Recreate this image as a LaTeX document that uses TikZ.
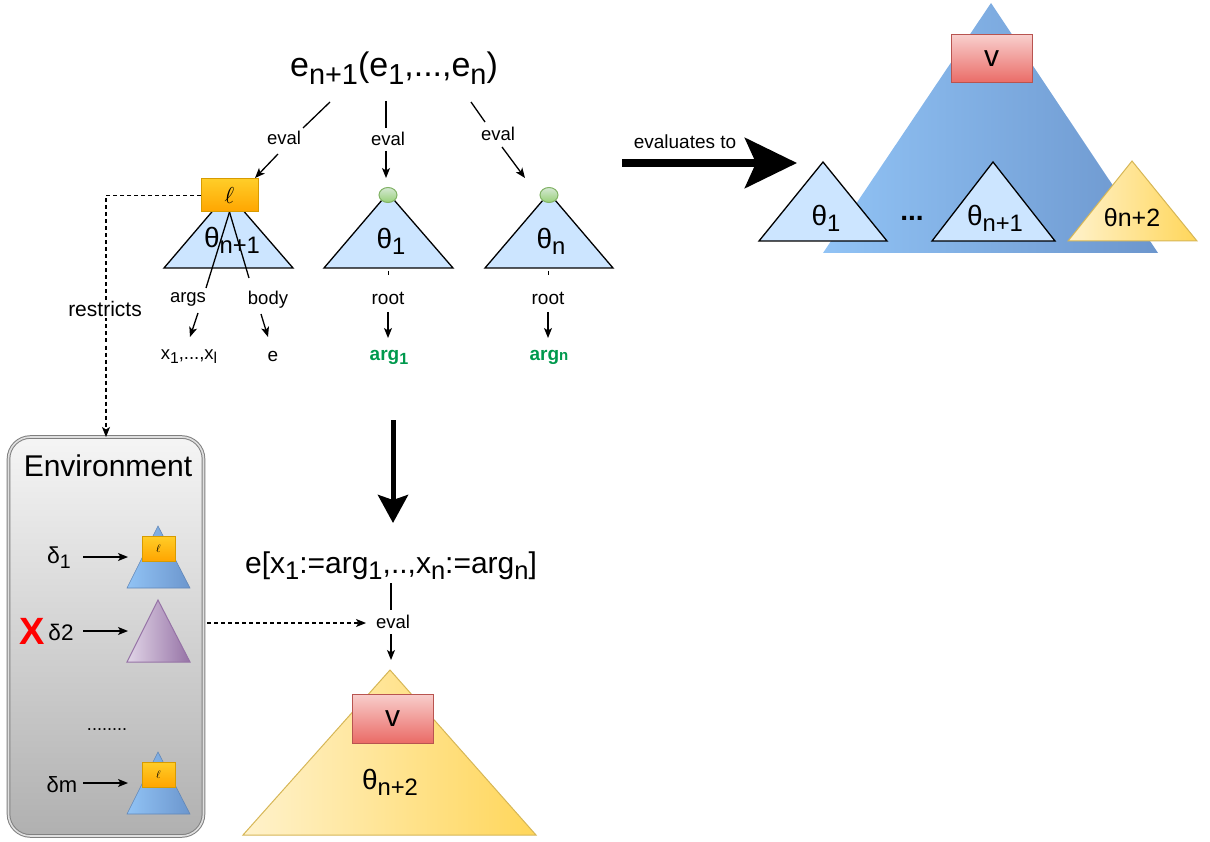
\documentclass[tikz,border=0pt]{standalone}
\usepackage{fontspec}
\setmainfont{Liberation Sans}
\usetikzlibrary{arrows.meta,shapes.geometric}

\definecolor{triblue}{RGB}{204,229,255}
\definecolor{bigbL}{RGB}{145,195,245}
\definecolor{bigbR}{RGB}{108,150,205}
\definecolor{yelL}{RGB}{255,242,204}
\definecolor{yelR}{RGB}{255,214,90}
\definecolor{yelS}{RGB}{214,182,86}
\definecolor{redT}{RGB}{248,206,204}
\definecolor{redB}{RGB}{234,107,102}
\definecolor{redS}{RGB}{184,84,80}
\definecolor{orT}{RGB}{255,205,40}
\definecolor{orB}{RGB}{255,165,0}
\definecolor{orS}{RGB}{215,155,0}
\definecolor{grT}{RGB}{213,232,212}
\definecolor{grB}{RGB}{151,208,119}
\definecolor{grS}{RGB}{130,179,102}
\definecolor{puL}{RGB}{225,213,231}
\definecolor{puR}{RGB}{150,115,166}
\definecolor{envT}{RGB}{245,245,245}
\definecolor{envB}{RGB}{176,176,176}
\definecolor{argG}{RGB}{0,153,77}

% lowered, reduced subscript
\newcommand\sbs[1]{\raisebox{-0.22em}{\scalebox{0.85}{#1}}}
% script ell, scaled to the surrounding size
\newcommand\ellmark[1]{\scalebox{#1}{$\ell$}}

\begin{document}
\begin{tikzpicture}[x=1pt,y=-1pt,
  every node/.style={inner sep=0pt,outer sep=0pt},
  fs/.style={font=\fontsize{#1}{#1}\selectfont},
  ln/.style={line width=1.3pt},
  arr/.style={line width=1.3pt,-{Stealth[length=10pt,width=8pt,inset=2.5pt]}},
  dsh/.style={line width=1.1pt,dash pattern=on 4pt off 3pt,-{Stealth[length=10pt,width=8pt,inset=2.5pt]}},
  tri/.style={draw=black,line width=1.3pt,fill=triblue,line join=miter},
  bigtri/.style={left color=bigbL,right color=bigbR},
  yeltri/.style={draw=yelS,line width=1pt,left color=yelL,right color=yelR},
  smalltri/.style={draw=bigbR!90!black,line width=0.6pt,left color=bigbL,right color=bigbR},
  purtri/.style={draw=puR,line width=1pt,left color=puL,right color=puR},
  lbox/.style={draw=orS,line width=1pt,top color=orT,bottom color=orB},
  vbox/.style={draw=redS,line width=1pt,top color=redT,bottom color=redB,fs=30},
  gcirc/.style={ellipse,draw=grS,line width=1pt,top color=grT,bottom color=grB,minimum width=18pt,minimum height=15pt},
  argtxt/.style={text=argG,font=\fontsize{19}{19}\selectfont\bfseries},
  envbox/.style={rounded corners=22pt,draw=gray,line width=1pt,double=gray!25,double distance=1.6pt,top color=envT,bottom color=envB}
]
\useasboundingbox (0,0) rectangle (1210,842);

% ---------- the call expression and its three evaluations ----------
\node[fs=34,anchor=base] (expr) at (394,77) {e\sbs{n+1}(e\sbs{1},...,e\sbs{n})};

\coordinate (e1a) at (330,102); \coordinate (e1b) at (303,128);
\coordinate (e1c) at (278,154); \coordinate (e1d) at (255,178);
\node[fs=18.5] (ev1) at (284,138) {eval};
\draw[ln] (e1a) -- (e1b);
\draw[arr] (e1c) -- (e1d);

\coordinate (e2a) at (386,101); \coordinate (e2b) at (386,128);
\coordinate (e2c) at (386,151); \coordinate (e2d) at (386,178);
\node[fs=18.5] (ev2) at (388,139) {eval};
\draw[ln] (e2a) -- (e2b);
\draw[arr] (e2c) -- (e2d);

\coordinate (e3a) at (471,102); \coordinate (e3b) at (485,122);
\coordinate (e3c) at (502,147); \coordinate (e3d) at (525,178);
\node[fs=18.5] (ev3) at (498,134) {eval};
\draw[ln] (e3a) -- (e3b);
\draw[arr] (e3c) -- (e3d);

% ---------- closure tree ----------
\coordinate (tlA) at (228,193); \coordinate (tlL) at (164,268); \coordinate (tlR) at (293,268);
\path[tri] (tlL) -- (tlA) -- (tlR) -- cycle;
\node[fs=28] (thl) at (232,240) {θ\sbs{n+1}};
\coordinate (argsend) at (206,288);
\coordinate (bodyend) at (249,278);
\node[lbox,minimum width=57pt,minimum height=33pt] (lam) at (229.5,195.5) {};
\draw[ln] (lam.south) -- (argsend);
\draw[ln] (lam.south) -- (bodyend);
\path[lbox] (lam.south west) rectangle (lam.north east);
\node (lamt) at (lam.center) {\ellmark{2.3}};

\node[fs=18.5] (args) at (188,299) {args};
\node[fs=18.5] (body) at (268,300) {body};
\coordinate (a1) at (198,313); \coordinate (a2) at (190,337);
\coordinate (b1) at (261,314); \coordinate (b2) at (268,337);
\draw[arr] (a1) -- (a2);
\draw[arr] (b1) -- (b2);
\node[fs=18.5] (xs) at (189,357) {x\sbs{1},...,x\sbs{l}};
\node[fs=19] (ebody) at (273,356) {e};

% ---------- first argument tree ----------
\coordinate (t1A) at (388,193); \coordinate (t1L) at (324,268); \coordinate (t1R) at (453,268);
\path[tri] (t1L) -- (t1A) -- (t1R) -- cycle;
\node[gcirc] (r1) at (388,195) {};
\node[fs=28] (th1) at (391,241) {θ\sbs{1}};
\coordinate (k1a) at (388,271); \coordinate (k1b) at (388,275);
\draw[line width=1pt] (k1a) -- (k1b);
\node[fs=19] (root1) at (388,298) {root};
\coordinate (k1c) at (388,312); \coordinate (k1d) at (388,338);
\draw[arr] (k1c) -- (k1d);
\node[argtxt] (arg1) at (389,357) {arg\sbs{1}};

% ---------- n-th argument tree ----------
\coordinate (tnA) at (549,193); \coordinate (tnL) at (485,268); \coordinate (tnR) at (613,268);
\path[tri] (tnL) -- (tnA) -- (tnR) -- cycle;
\node[gcirc] (rn) at (549,195) {};
\node[fs=28] (thn) at (551,241) {θ\sbs{n}};
\coordinate (kna) at (548,271); \coordinate (knb) at (548,275);
\draw[line width=1pt] (kna) -- (knb);
\node[fs=19] (rootn) at (548,298) {root};
\coordinate (knc) at (548,312); \coordinate (knd) at (548,338);
\draw[arr] (knc) -- (knd);
\node[argtxt] (argn) at (549,357) {arg{\fontsize{15}{15}\selectfont n}};

% ---------- environment ----------
\node[envbox,minimum width=195pt,minimum height=399pt] (env) at (106,636.5) {};
\node[fs=30] (envt) at (108,466) {Environment};

\draw[dsh] (lam.west) -| (env.north);
\node[fs=21,fill=white,inner sep=1.5pt] (restr) at (105,309) {restricts};

% row 1
\node[fs=23] (d1) at (59,558) {δ\sbs{1}};
\coordinate (d1a) at (83,557); \coordinate (d1b) at (128,557);
\draw[arr] (d1a) -- (d1b);
\coordinate (s1A) at (158,526); \coordinate (s1L) at (127,588); \coordinate (s1R) at (190,588);
\path[smalltri] (s1L) -- (s1A) -- (s1R) -- cycle;
\node[lbox,minimum width=33pt,minimum height=25pt] (l1) at (158.5,548.5) {\ellmark{1.1}};

% row 2
\node[text=red,font=\fontsize{38}{38}\selectfont\bfseries] (cross) at (32,631) {X};
\node[fs=22.5] (d2) at (61,632) {δ2};
\coordinate (d2a) at (83,631); \coordinate (d2b) at (128,631);
\draw[arr] (d2a) -- (d2b);
\coordinate (s2A) at (158,600); \coordinate (s2L) at (127,662); \coordinate (s2R) at (190,662);
\path[purtri] (s2L) -- (s2A) -- (s2R) -- cycle;

\node[fs=18,anchor=base] (dots) at (107,730) {........};

% row m
\node[fs=22] (dm) at (62,785) {δm};
\coordinate (dma) at (83,783); \coordinate (dmb) at (128,783);
\draw[arr] (dma) -- (dmb);
\coordinate (smA) at (158,752); \coordinate (smL) at (127,814); \coordinate (smR) at (190,814);
\path[smalltri] (smL) -- (smA) -- (smR) -- cycle;
\node[lbox,minimum width=33pt,minimum height=25pt] (lm) at (158.5,774.5) {\ellmark{1.1}};

% ---------- substitution step ----------
\coordinate (bd1) at (393,420); \coordinate (bd2) at (393,523);
\draw[line width=5pt,-{Stealth[length=28pt,width=30pt,inset=5pt]}] (bd1) -- (bd2);

\node[fs=30,anchor=base] (subst) at (391,573) {e[x\sbs{1}:=arg\sbs{1},..,x\sbs{n}:=arg\sbs{n}]};
\coordinate (s4a) at (391,583); \coordinate (s4b) at (391,610);
\coordinate (s4c) at (391,634); \coordinate (s4d) at (391,660);
\node[fs=18.5] (ev4) at (393,622) {eval};
\draw[ln] (s4a) -- (s4b);
\draw[arr] (s4c) -- (s4d);
\coordinate (dsa) at (207,623); \coordinate (dsb) at (366,623);
\draw[dsh] (dsa) -- (dsb);

\coordinate (yA) at (390,670); \coordinate (yL) at (243,835); \coordinate (yR) at (536,835);
\path[yeltri] (yL) -- (yA) -- (yR) -- cycle;
\node[vbox,minimum width=81pt,minimum height=49pt] (v1) at (392.5,718.5) {v};
\node[fs=28] (thy) at (390,782) {θ\sbs{n+2}};

% ---------- result ----------
\coordinate (ea) at (622,163); \coordinate (eb) at (797,163);
\draw[line width=8pt,-{Stealth[length=52pt,width=50pt,inset=11pt]}] (ea) -- (eb);
\node[fs=19] (evto) at (685,142) {evaluates to};

\coordinate (BA) at (991,3); \coordinate (BL) at (823,253); \coordinate (BR) at (1158,253);
\path[bigtri] (BL) -- (BA) -- (BR) -- cycle;
\node[vbox,minimum width=81pt,minimum height=48pt] (v2) at (991.5,59) {v};

\coordinate (q1A) at (823,162); \coordinate (q1L) at (759,241); \coordinate (q1R) at (887,241);
\path[tri] (q1L) -- (q1A) -- (q1R) -- cycle;
\node[fs=28] (q1t) at (826,218) {θ\sbs{1}};

\node[anchor=base,font=\fontsize{28}{28}\selectfont\bfseries] (ell) at (912,221) {...};

\coordinate (q2A) at (993,162); \coordinate (q2L) at (932,241); \coordinate (q2R) at (1055,241);
\path[tri] (q2L) -- (q2A) -- (q2R) -- cycle;
\node[fs=28] (q2t) at (995,218) {θ\sbs{n+1}};

\coordinate (q3A) at (1132,161); \coordinate (q3L) at (1068,241); \coordinate (q3R) at (1197,241);
\path[yeltri] (q3L) -- (q3A) -- (q3R) -- cycle;
\node[fs=25] (q3t) at (1132,218) {θn+2};
\end{tikzpicture}
\end{document}
